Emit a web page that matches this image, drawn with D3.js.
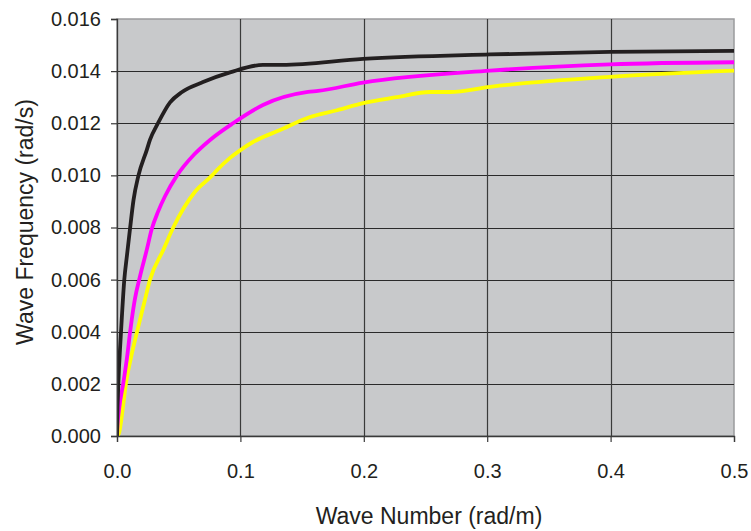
<!DOCTYPE html>
<html>
<head>
<meta charset="utf-8">
<script src="https://cdn.jsdelivr.net/npm/d3@7"></script>
<style>
  html, body { margin: 0; padding: 0; background: #ffffff; }
  svg { display: block; font-family: "Liberation Sans", Arial, Helvetica, sans-serif; }
</style>
</head>
<body>
<svg id="chart" width="751" height="531"></svg>
<script>
// Dispersion curves: wave number k (rad/m) vs wave frequency ω (rad/s)
const blackK = [0, 0.0002, 0.0004, 0.0008, 0.0011, 0.0016, 0.0024, 0.0038, 0.0059, 0.0081, 0.0105, 0.0134, 0.0173, 0.0241, 0.0267, 0.0332, 0.043, 0.0527, 0.0697, 0.0916, 0.1183, 0.1337, 0.1994, 0.3023, 0.3995, 0.5];
const blackW = [0, 0.0006, 0.0011, 0.0016, 0.00203, 0.0026, 0.0033, 0.00445, 0.00599, 0.00694, 0.00793, 0.00906, 0.00998, 0.01097, 0.01136, 0.0120, 0.0128, 0.0132, 0.01358, 0.01395, 0.01424, 0.01424, 0.01447, 0.01464, 0.01474, 0.01478];

const magentaK = [0, 0.0004, 0.0016, 0.0051, 0.0081, 0.0105, 0.0119, 0.0145, 0.0186, 0.0241, 0.0281, 0.0332, 0.0389, 0.0484, 0.0625, 0.0754, 0.094, 0.1183, 0.1548, 0.1629, 0.1994, 0.3023, 0.3995, 0.5];
const magentaW = [0, 0.0004, 0.001, 0.00203, 0.003, 0.00395, 0.00445, 0.00525, 0.00612, 0.00714, 0.00793, 0.0086, 0.0092, 0.00998, 0.0108, 0.01136, 0.0120, 0.0127, 0.0132, 0.01324, 0.01356, 0.01402, 0.01426, 0.01434];

const yellowK = [0.0004, 0.0019, 0.0045, 0.0073, 0.0113, 0.016, 0.0186, 0.0225, 0.0267, 0.0375, 0.0456, 0.0632, 0.0767, 0.081, 0.0916, 0.1, 0.1102, 0.1321, 0.1564, 0.1783, 0.1994, 0.2269, 0.2536, 0.2699, 0.3023, 0.3995, 0.5];
const yellowW = [0, 0.00015, 0.001, 0.00203, 0.003, 0.00395, 0.00445, 0.0052, 0.00599, 0.00714, 0.008, 0.00937, 0.00998, 0.0102, 0.01067, 0.01097, 0.01128, 0.01174, 0.01224, 0.0125, 0.01277, 0.0130, 0.0132, 0.0132, 0.0134, 0.01378, 0.01402];

const xTicks = [0, 0.1, 0.2, 0.3, 0.4, 0.5];
const yTicks = [0, 0.002, 0.004, 0.006, 0.008, 0.010, 0.012, 0.014, 0.016];

const seriesList = [
  { name: "black",   k: blackK,   w: blackW,   color: "#231f20" },
  { name: "magenta", k: magentaK, w: magentaW, color: "#ff00ff" },
  { name: "yellow",  k: yellowK,  w: yellowW,  color: "#ffff00" }
];

const plot = { left: 117, top: 19, right: 734, bottom: 436 };
const svg = d3.select("#chart");

const x = d3.scaleLinear().domain([0, 0.5]).range([plot.left, plot.right]);
const y = d3.scaleLinear().domain([0, 0.016]).range([plot.bottom, plot.top]);

// plot background
svg.append("rect")
  .attr("x", plot.left).attr("y", plot.top)
  .attr("width", plot.right - plot.left).attr("height", plot.bottom - plot.top)
  .attr("fill", "#c8c9cb")
  .attr("stroke", "#9a9b9d").attr("stroke-width", 1.5);

// horizontal grid
svg.append("g").selectAll("line")
  .data(yTicks.filter(d => d > 0 && d < 0.016))
  .join("line")
  .attr("x1", plot.left).attr("x2", plot.right)
  .attr("y1", d => Math.round(y(d)) + 0.5).attr("y2", d => Math.round(y(d)) + 0.5)
  .attr("stroke", "#2a2a2a").attr("stroke-width", 1.2);

// vertical grid
svg.append("g").selectAll("line")
  .data(xTicks.filter(d => d > 0 && d < 0.5))
  .join("line")
  .attr("x1", d => Math.round(x(d)) + 0.5).attr("x2", d => Math.round(x(d)) + 0.5)
  .attr("y1", plot.top).attr("y2", plot.bottom)
  .attr("stroke", "#3a3a3a").attr("stroke-width", 1.2);

// curves
svg.append("clipPath").attr("id", "plotClip")
  .append("rect")
  .attr("x", plot.left).attr("y", plot.top)
  .attr("width", plot.right - plot.left + 2).attr("height", plot.bottom - plot.top);

const line = d3.line().x(d => x(d[0])).y(d => y(d[1])).curve(d3.curveMonotoneX);
svg.append("g").attr("clip-path", "url(#plotClip)")
  .selectAll("path")
  .data(seriesList.slice().reverse())
  .join("path")
  .attr("d", s => line(s.k.map((k, i) => [k, s.w[i]])))
  .attr("fill", "none")
  .attr("stroke", s => s.color)
  .attr("stroke-width", 3.8)
  .attr("stroke-linejoin", "round");

// axes
const yAxis = d3.axisLeft(y).tickValues(yTicks).tickFormat(d3.format(".3f")).tickSize(6).tickPadding(10);
const xAxis = d3.axisBottom(x).tickValues(xTicks).tickFormat(d3.format(".1f")).tickSize(6).tickPadding(22);

const gy = svg.append("g").attr("transform", `translate(${plot.left},0)`).call(yAxis);
const gx = svg.append("g").attr("transform", `translate(0,${plot.bottom})`).call(xAxis);

[gx, gy].forEach(g => {
  g.select(".domain").attr("stroke", "#3a3a3a").attr("stroke-width", 1.3);
  g.selectAll(".tick line").attr("stroke", "#3a3a3a").attr("stroke-width", 1.2);
  g.selectAll(".tick text")
    .attr("fill", "#231f20")
    .style("font-size", "20px")
    .style("font-family", "'Liberation Sans', Arial, sans-serif");
});

// axis titles
svg.append("text")
  .attr("x", 429).attr("y", 524)
  .attr("text-anchor", "middle")
  .attr("fill", "#231f20")
  .style("font-size", "23px")
  .text("Wave Number (rad/m)");

svg.append("text")
  .attr("transform", "translate(33,222) rotate(-90)")
  .attr("text-anchor", "middle")
  .attr("fill", "#231f20")
  .style("font-size", "23px")
  .text("Wave Frequency (rad/s)");
</script>
</body>
</html>
